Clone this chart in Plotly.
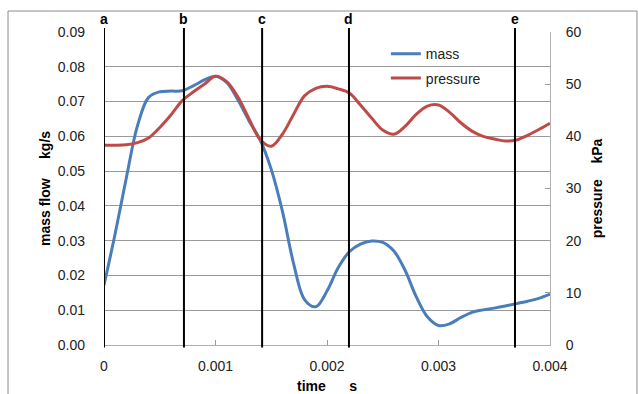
import plotly.graph_objects as go

# ---- data ----
time_s = [0.0000, 0.0001, 0.0002, 0.0003, 0.0004, 0.0005, 0.0006, 0.0007, 0.0008, 0.0009,
          0.0010, 0.0011, 0.0012, 0.0013, 0.0014, 0.0015, 0.0016, 0.0017, 0.0018, 0.0019,
          0.0020, 0.0021, 0.0022, 0.0023, 0.0024, 0.0025, 0.0026, 0.0027, 0.0028, 0.0029,
          0.0030, 0.0031, 0.0032, 0.0033, 0.0034, 0.0035, 0.0036, 0.0037, 0.0038, 0.0039,
          0.0040]
mass_kgs = [0.0172, 0.0320, 0.0480, 0.0630, 0.0712, 0.0728, 0.0730, 0.0731, 0.0745, 0.0762,
            0.0773, 0.0755, 0.0705, 0.0645, 0.0590, 0.0505, 0.0385, 0.0235, 0.0130, 0.0110,
            0.0155, 0.0222, 0.0268, 0.0290, 0.0299, 0.0295, 0.0270, 0.0215, 0.0139, 0.0081,
            0.0056, 0.0061, 0.0079, 0.0094, 0.0101, 0.0106, 0.0112, 0.0119, 0.0126, 0.0134,
            0.0146]
pressure_kpa = [38.3, 38.3, 38.4, 38.8, 39.7, 41.7, 44.1, 46.8, 48.5, 50.0,
                51.5, 50.5, 47.6, 43.4, 39.4, 38.1, 40.4, 44.2, 47.8, 49.2,
                49.6, 49.1, 48.3, 46.0, 43.5, 41.2, 40.4, 41.9, 44.2, 45.8,
                46.0, 44.6, 42.6, 41.0, 40.0, 39.5, 39.1, 39.3, 40.2, 41.3,
                42.5]

event_times = [0, 0.000717, 0.001418, 0.002197, 0.003686]
event_labels = ["a", "b", "c", "d", "e"]

x_ticks = [0, 0.001, 0.002, 0.003, 0.004]
x_ticktext = ["0", "0.001", "0.002", "0.003", "0.004"]

NB = "\u00a0"
FONT = "Liberation Sans, Arial, sans-serif"
BLUE = "#4A7EBB"
RED = "#BE4B48"
GRID = "#9A9A9A"

fig = go.Figure()
fig.add_trace(go.Scatter(x=time_s, y=mass_kgs, name="mass", mode="lines",
                         line=dict(color=BLUE, width=3, shape="spline", smoothing=1.0),
                         legendgroup="m"))
fig.add_trace(go.Scatter(x=time_s, y=pressure_kpa, name="pressure", mode="lines", yaxis="y2",
                         line=dict(color=RED, width=3, shape="spline", smoothing=1.0),
                         legendgroup="p"))

shapes = []
for t in event_times:
    shapes.append(dict(type="line", xref="x", yref="paper", x0=t, x1=t, y0=-0.008, y1=1.013,
                       line=dict(color="black", width=2), layer="above"))
# outer chart border
shapes.append(dict(type="rect", xref="paper", yref="paper", x0=-0.2152, x1=1.195,
                   y0=-0.2, y1=1.067, line=dict(color="#8C8C8C", width=1)))

annotations = []
for t, lab in zip(event_times, event_labels):
    annotations.append(dict(x=t, y=1.041, xref="x", yref="paper", text="<b>%s</b>" % lab,
                            showarrow=False, yanchor="middle", xanchor="center",
                            font=dict(size=14, color="black", family=FONT)))

fig.update_layout(
    width=638, height=394,
    margin=dict(l=104, r=88, t=32, b=49, autoexpand=False),
    paper_bgcolor="white", plot_bgcolor="white",
    font=dict(family=FONT, size=14, color="#222222"),
    showlegend=True,
    legend=dict(x=0.632, y=0.98, xanchor="left", yanchor="top", bgcolor="rgba(0,0,0,0)",
                font=dict(size=14, color="#222222"), tracegroupgap=3, traceorder="grouped"),
    xaxis=dict(range=[0, 0.004], tickvals=x_ticks, ticktext=x_ticktext, automargin=False,
               ticks="inside", ticklen=5, tickcolor=GRID, showgrid=False, zeroline=False,
               showline=True, linecolor="#B0B0B0", linewidth=1, ticklabelstandoff=8,
               title=dict(text="<b>time" + NB * 6 + "s</b>", standoff=9,
                          font=dict(size=14, color="black"))),
    yaxis=dict(range=[0, 0.09], dtick=0.01, tickformat=".2f", showgrid=True, gridcolor=GRID,
               gridwidth=1, zeroline=False, showline=False, ticks="", ticklabelstandoff=18,
               automargin=False,
               title=dict(text="<b>mass flow" + NB * 5 + "kg/s</b>", standoff=3,
                          font=dict(size=14, color="black"))),
    yaxis2=dict(range=[0, 60], dtick=10, overlaying="y", side="right", showgrid=False,
                zeroline=False, showline=True, linecolor="#B0B0B0", linewidth=1,
                ticks="inside", ticklen=5, tickcolor=GRID, ticklabelstandoff=12,
                automargin=False,
                title=dict(text="<b>pressure" + NB * 4 + "kPa</b>", standoff=11,
                           font=dict(size=14, color="black"))),
    shapes=shapes,
    annotations=annotations,
)

fig.write_html("out.html")
